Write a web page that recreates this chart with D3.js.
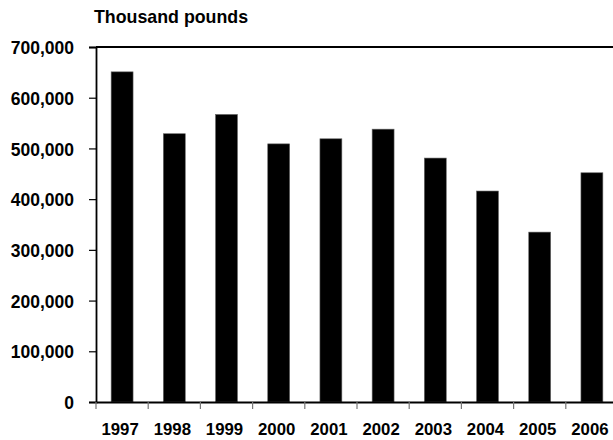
<!DOCTYPE html>
<html>
<head>
<meta charset="utf-8">
<script src="https://cdn.jsdelivr.net/npm/d3@7"></script>
<style>
  html, body { margin: 0; padding: 0; background: #fff; overflow: hidden; }
  text { font-family: "Liberation Sans", Arial, sans-serif; font-weight: bold; fill: #000; }
</style>
</head>
<body>
<div id="chart"></div>
<script>
var years = ["1997", "1998", "1999", "2000", "2001", "2002", "2003", "2004", "2005", "2006"];
var pounds = [651000, 529000, 567000, 509000, 519000, 538000, 481000, 416000, 335000, 452000];
var yTicks = [0, 100000, 200000, 300000, 400000, 500000, 600000, 700000];
var unitLabel = "Thousand pounds";

var w = 613, h = 440;
// plot runs off the right edge like the original ("top" is taken by window.top)
var plotLeft = 96, plotRight = 618, plotTop = 47, plotBottom = 402;

var svg = d3.select("#chart").append("svg")
  .attr("xmlns", "http://www.w3.org/2000/svg")
  .attr("width", w)
  .attr("height", h);

var x = d3.scaleBand()
  .domain(years)
  .range([plotLeft, plotRight])
  .paddingInner(0.58)
  .paddingOuter(0.29);

var y = d3.scaleLinear()
  .domain([0, 700000])
  .range([plotBottom, plotTop]);

var fmt = d3.format(",");

// bars first so the frame sits on top
svg.selectAll("rect.bar")
  .data(years)
  .enter()
  .append("rect")
  .attr("class", "bar")
  .attr("x", function(d) { return x(d); })
  .attr("y", function(d, i) { return y(pounds[i]); })
  .attr("width", x.bandwidth())
  .attr("height", function(d, i) { return plotBottom - y(pounds[i]); })
  .attr("fill", "#000")
  .attr("stroke", "#666")
  .attr("stroke-width", 0.6);

// frame: top line and right side (off screen)
svg.append("path")
  .attr("d", "M" + plotLeft + "," + plotTop + "H" + plotRight + "V" + plotBottom)
  .attr("fill", "none")
  .attr("stroke", "#000")
  .attr("stroke-width", 1.8);

// y axis
var yAxis = svg.append("g")
  .attr("transform", "translate(" + plotLeft + ",0)")
  .call(d3.axisLeft(y).tickValues(yTicks).tickFormat(fmt).tickSize(7).tickPadding(15));
yAxis.select(".domain").attr("stroke", "#000").attr("stroke-width", 1.8);
yAxis.selectAll(".tick line").attr("stroke", "#000").attr("stroke-width", 1.2);
yAxis.selectAll(".tick text")
  .attr("fill", "#000")
  .attr("dy", "0.38em")
  .style("font-size", "17.5px")
  .style("font-family", "Liberation Sans, Arial, sans-serif")
  .style("font-weight", "bold");

// x axis, ticks between categories
var xAxis = svg.append("g")
  .attr("transform", "translate(0," + plotBottom + ")")
  .call(d3.axisBottom(x).tickSize(0).tickPadding(21));
xAxis.select(".domain").attr("stroke", "#000").attr("stroke-width", 1.8);
xAxis.selectAll(".tick text")
  .attr("fill", "#000")
  .attr("dx", "-2")
  .style("font-size", "16.8px")
  .style("font-family", "Liberation Sans, Arial, sans-serif")
  .style("font-weight", "bold");

var step = x.step();
xAxis.selectAll("line.sep")
  .data(d3.range(years.length + 1))
  .enter()
  .append("line")
  .attr("class", "sep")
  .attr("x1", function(i) { return plotLeft + i * step; })
  .attr("x2", function(i) { return plotLeft + i * step; })
  .attr("y1", 0)
  .attr("y2", 7)
  .attr("stroke", "#777")
  .attr("stroke-width", 1.2);

// unit label above the plot
svg.append("text")
  .attr("x", 94)
  .attr("y", 22.5)
  .style("font-size", "17.8px")
  .text(unitLabel);
</script>
</body>
</html>
